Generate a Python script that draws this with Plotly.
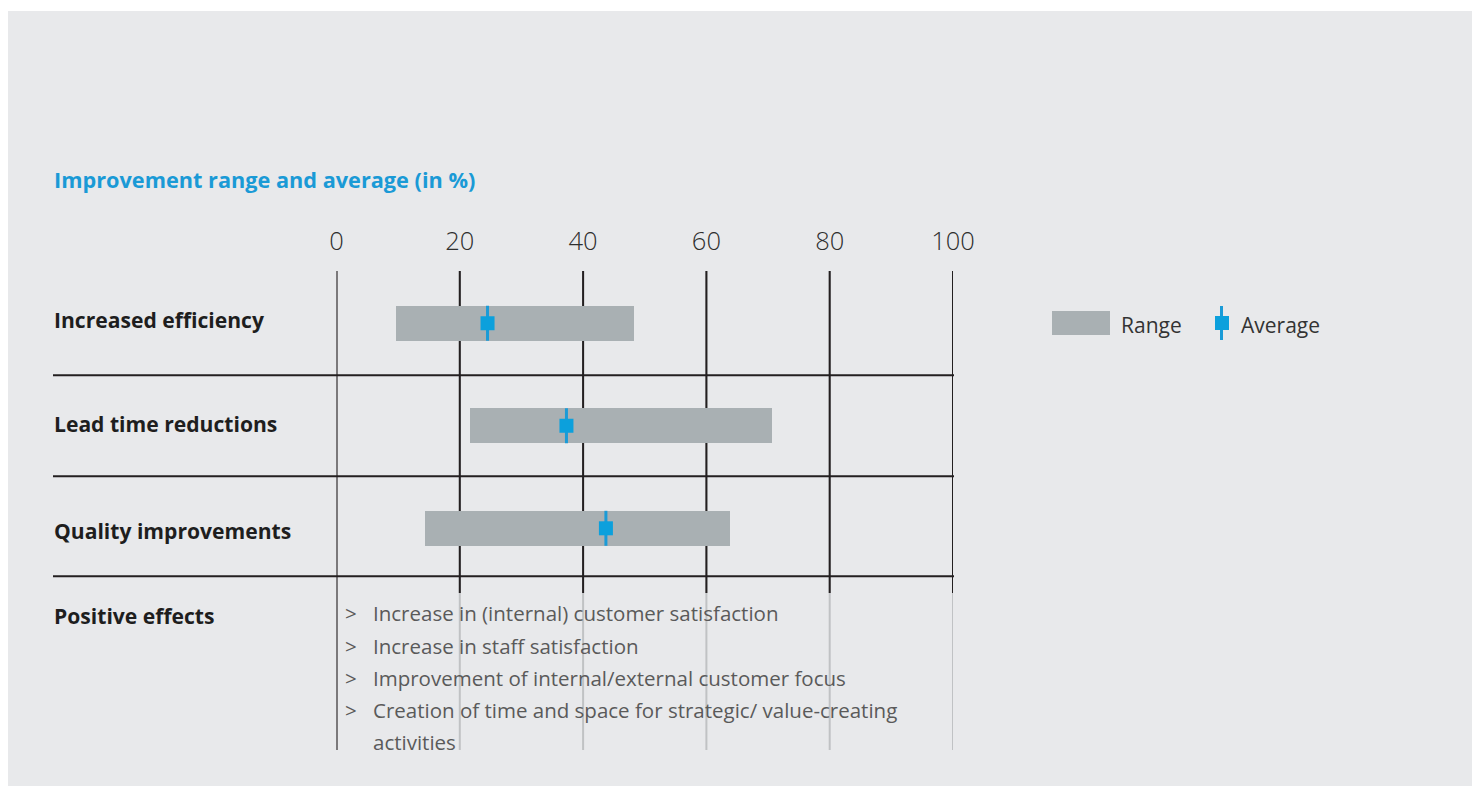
import plotly.graph_objects as go

# ---------------- data ----------------
categories = ["Increased efficiency", "Lead time reductions", "Quality improvements"]
range_min = [9.65, 21.5, 14.2]
range_max = [48.2, 70.5, 63.7]
average = [24.5, 37.3, 43.7]
tick_values = [0, 20, 40, 60, 80, 100]
tick_labels = ["0", "20", "40", "60", "80", "100"]
effects_label = "Positive effects"
effects = [
    "Increase in (internal) customer satisfaction",
    "Increase in staff satisfaction",
    "Improvement of internal/external customer focus",
    "Creation of time and space for strategic/ value-creating",
]
effects_continuation = "activities"
title_text = "Improvement range and average (in %)"

# ---------------- style ----------------
W, H = 1472, 787
PANEL = "#e8e9eb"
BAR = "#a9b0b3"
BLUE = "#0ca0dc"
DARK = "#231f20"
LIGHT = "#c0c2c4"
FONT = "Open Sans"


def px(x):
    return x / W


def py(y):
    return 1 - y / H


row_pos = list(range(len(categories)))
label_shift = [-0.04, -0.02, 0.02]
separator_pos = [0.507, 1.493, 2.468]
plot_top, plot_bottom = 271, 750
row0_px, row_step = 323.3, 102.5
y_top = (plot_top - row0_px) / row_step
y_bot = (plot_bottom - row0_px) / row_step
bar_w = 35 / row_step

fig = go.Figure()
fig.add_trace(go.Bar(
    orientation="h", y=row_pos,
    x=[b - a for a, b in zip(range_min, range_max)], base=range_min,
    width=bar_w, marker=dict(color=BAR, line=dict(width=0)),
    showlegend=False, hoverinfo="skip",
))
fig.add_trace(go.Scatter(
    x=average, y=row_pos, mode="markers",
    marker=dict(symbol="square", size=14, color=BLUE, line=dict(width=0)),
    error_y=dict(type="constant", value=bar_w / 2, color="#1a9bd7", thickness=3, width=0),
    showlegend=False, hoverinfo="skip",
))

shapes = []
# background panel
shapes.append(dict(type="rect", xref="paper", yref="paper", x0=px(8), x1=1.0, y0=py(786), y1=py(11),
                   fillcolor=PANEL, line=dict(width=0), layer="below"))
# light vertical lines (full height) then dark upper part
for t in tick_values:
    shapes.append(dict(type="line", xref="x", yref="paper", x0=t, x1=t,
                       y0=py(plot_bottom), y1=py(plot_top),
                       line=dict(color=LIGHT, width=2), layer="between"))
for t in tick_values:
    shapes.append(dict(type="line", xref="x", yref="paper", x0=t, x1=t,
                       y0=py(plot_bottom) if t == 0 else py(593), y1=py(plot_top),
                       line=dict(color=DARK, width=2), layer="between"))
# row separators
for s in separator_pos:
    shapes.append(dict(type="line", xref="paper", yref="y", x0=px(53), x1=px(954),
                       y0=s, y1=s, line=dict(color=DARK, width=2), layer="above"))
# legend
shapes.append(dict(type="rect", xref="paper", yref="paper", x0=px(1052), x1=px(1110), y0=py(335), y1=py(311),
                   fillcolor=BAR, line=dict(width=0)))
shapes.append(dict(type="line", xref="paper", yref="paper", x0=px(1221.5), x1=px(1221.5), y0=py(340), y1=py(306),
                   line=dict(color="#1a9bd7", width=3)))
shapes.append(dict(type="rect", xref="paper", yref="paper", x0=px(1215), x1=px(1229), y0=py(330), y1=py(316),
                   fillcolor=BLUE, line=dict(width=0)))

annotations = []
annotations.append(dict(text="<b>" + title_text + "</b>", xref="paper", yref="paper", x=px(52), y=py(179),
                        xanchor="left", yanchor="middle", showarrow=False,
                        font=dict(family=FONT, size=21.7, color="#1a9ad6")))
for i, c in enumerate(categories):
    annotations.append(dict(text="<b>" + c + "</b>", xref="paper", yref="y", x=px(52), y=i + label_shift[i],
                            xanchor="left", yanchor="middle", showarrow=False,
                            font=dict(family=FONT, size=21.1, color="#1e1e1e")))
annotations.append(dict(text="<b>" + effects_label + "</b>", xref="paper", yref="paper", x=px(52), y=py(615),
                        xanchor="left", yanchor="middle", showarrow=False,
                        font=dict(family=FONT, size=21.1, color="#1e1e1e")))
line_y = [613, 646, 678, 710]
for ly, e in zip(line_y, effects):
    annotations.append(dict(text=">", xref="paper", yref="paper", x=px(343), y=py(ly),
                            xanchor="left", yanchor="middle", showarrow=False,
                            font=dict(family=FONT, size=20.5, color="#5a5a5a")))
    annotations.append(dict(text=e, xref="paper", yref="paper", x=px(371), y=py(ly),
                            xanchor="left", yanchor="middle", showarrow=False,
                            font=dict(family=FONT, size=20.5, color="#5a5a5a")))
annotations.append(dict(text=effects_continuation, xref="paper", yref="paper", x=px(371), y=py(742),
                        xanchor="left", yanchor="middle", showarrow=False,
                        font=dict(family=FONT, size=20.5, color="#5a5a5a")))
annotations.append(dict(text="Range", xref="paper", yref="paper", x=px(1119), y=py(325),
                        xanchor="left", yanchor="middle", showarrow=False,
                        font=dict(family=FONT, size=21, color="#333333")))
annotations.append(dict(text="Average", xref="paper", yref="paper", x=px(1239), y=py(325),
                        xanchor="left", yanchor="middle", showarrow=False,
                        font=dict(family=FONT, size=21, color="#333333")))

fig.update_layout(
    width=W, height=H, margin=dict(l=0, r=0, t=0, b=0, pad=0, autoexpand=False),
    paper_bgcolor="white", plot_bgcolor="rgba(0,0,0,0)",
    xaxis=dict(domain=[px(336.5), px(953)], range=[0, 100], side="top",
               tickvals=tick_values, ticktext=tick_labels, ticks="",
               tickfont=dict(family=FONT, size=25.5, color="#2e2e2e", weight=300),
               ticklabelstandoff=15, automargin=False,
               showgrid=False, zeroline=False, showline=False, fixedrange=True),
    yaxis=dict(domain=[py(plot_bottom), py(plot_top)], range=[y_bot, y_top], automargin=False,
               visible=False, showgrid=False, zeroline=False, fixedrange=True),
    shapes=shapes, annotations=annotations, bargap=0,
)
fig.write_html("out.html")
